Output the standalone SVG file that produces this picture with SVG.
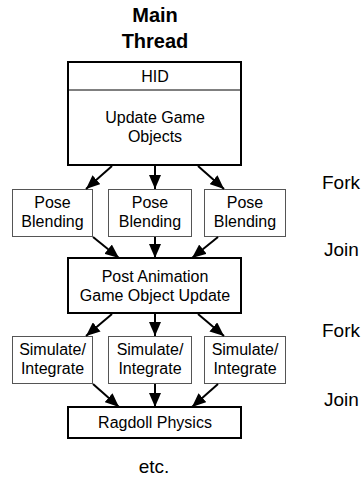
<svg xmlns="http://www.w3.org/2000/svg" width="364" height="481" viewBox="0 0 364 481">
<style>
text{font-family:"Liberation Sans",Arial,sans-serif;fill:#000;text-anchor:middle}
.t{font-size:16px}
.big{font-size:19px;text-anchor:start}
.title{font-size:20px;font-weight:bold}
.main{fill:#fff;stroke:#000;stroke-width:2}
.sub{fill:#fff;stroke:#555;stroke-width:1}
.arr{stroke:#000;stroke-width:2;fill:none;marker-end:url(#ah)}
</style>
<defs>
<marker id="ah" markerUnits="userSpaceOnUse" markerWidth="14" markerHeight="12" viewBox="0 0 14 12" refX="14" refY="6" orient="auto">
<path d="M0,0 L14,6 L0,12 z" fill="#000"/>
</marker>
</defs>
<g id="title">
<text class="title" x="155" y="22">Main</text>
<text class="title" x="155" y="48">Thread</text>
</g>
<g id="main">
<rect class="main" x="68" y="62" width="173" height="103"/>
<line x1="68" y1="90" x2="241" y2="90" stroke="#000" stroke-width="1"/>
<text class="t" x="155" y="82">HID</text>
<text class="t" x="155" y="123">Update Game</text>
<text class="t" x="155" y="142">Objects</text>
</g>
<g id="pose1">
<rect class="sub" x="12.5" y="189.5" width="80" height="47"/>
<text class="t" x="52.5" y="208">Pose</text>
<text class="t" x="52.5" y="227">Blending</text>
</g>
<g id="pose2">
<rect class="sub" x="108.5" y="189.5" width="83" height="47"/>
<text class="t" x="150" y="208">Pose</text>
<text class="t" x="150" y="227">Blending</text>
</g>
<g id="pose3">
<rect class="sub" x="204.5" y="189.5" width="81" height="47"/>
<text class="t" x="245" y="208">Pose</text>
<text class="t" x="245" y="227">Blending</text>
</g>
<g id="post">
<rect class="main" x="68" y="258" width="173" height="55"/>
<text class="t" x="155" y="282">Post Animation</text>
<text class="t" x="155" y="301">Game Object Update</text>
</g>
<g id="sim1">
<rect class="sub" x="12.5" y="336.5" width="80" height="47"/>
<text class="t" x="52.5" y="355">Simulate/</text>
<text class="t" x="52.5" y="374">Integrate</text>
</g>
<g id="sim2">
<rect class="sub" x="108.5" y="336.5" width="83" height="47"/>
<text class="t" x="150" y="355">Simulate/</text>
<text class="t" x="150" y="374">Integrate</text>
</g>
<g id="sim3">
<rect class="sub" x="204.5" y="336.5" width="81" height="47"/>
<text class="t" x="245" y="355">Simulate/</text>
<text class="t" x="245" y="374">Integrate</text>
</g>
<g id="ragdoll">
<rect class="main" x="68" y="407" width="173" height="31"/>
<text class="t" x="155" y="428">Ragdoll Physics</text>
</g>
<g id="labels">
<text class="big" x="322" y="189">Fork</text>
<text class="big" x="324" y="256">Join</text>
<text class="big" x="322" y="337">Fork</text>
<text class="big" x="324" y="406">Join</text>
<text class="big" x="154" y="473" style="text-anchor:middle">etc.</text>
</g>
<g id="connectors">
<line class="arr" x1="112" y1="166" x2="86" y2="189"/>
<line class="arr" x1="155" y1="166" x2="155" y2="189"/>
<line class="arr" x1="198" y1="166" x2="224" y2="189"/>
<line class="arr" x1="93" y1="237" x2="119" y2="258"/>
<line class="arr" x1="155" y1="237" x2="155" y2="258"/>
<line class="arr" x1="218" y1="237" x2="192" y2="258"/>
<line class="arr" x1="112" y1="314" x2="86" y2="336"/>
<line class="arr" x1="155" y1="314" x2="155" y2="336"/>
<line class="arr" x1="198" y1="314" x2="224" y2="336"/>
<line class="arr" x1="93" y1="384" x2="119" y2="407"/>
<line class="arr" x1="155" y1="384" x2="155" y2="407"/>
<line class="arr" x1="218" y1="384" x2="192" y2="407"/>
</g>
</svg>
